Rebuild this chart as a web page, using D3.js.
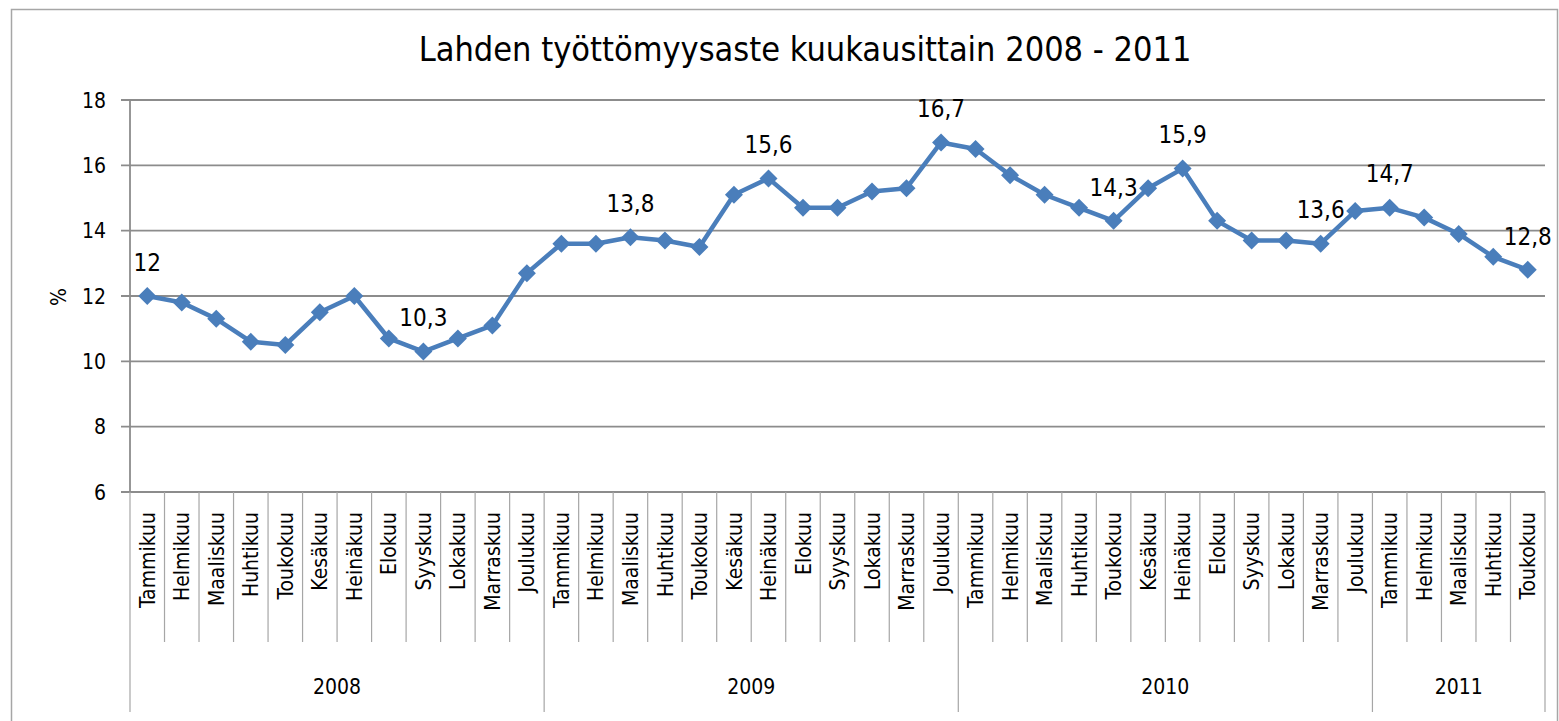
<!DOCTYPE html>
<html>
<head>
<meta charset="utf-8">
<script src="https://cdn.jsdelivr.net/npm/d3@7"></script>
<style>
  body { margin: 0; background: #fff; }
  svg text { font-family: "DejaVu Sans", sans-serif; font-stretch: condensed; fill: #000; }
</style>
</head>
<body>
<div id="chart"></div>
<script>
// Months per year as shown on the category axis
const years = ["2008", "2009", "2010", "2011"];
const monthsPerYear = [12, 12, 12, 5];
const monthNames = ["Tammikuu", "Helmikuu", "Maaliskuu", "Huhtikuu", "Toukokuu", "Kesäkuu",
                    "Heinäkuu", "Elokuu", "Syyskuu", "Lokakuu", "Marraskuu", "Joulukuu"];

// Unemployment rate, %
const rate = [
  12.0, 11.8, 11.3, 10.6, 10.5, 11.5, 12.0, 10.7, 10.3, 10.7, 11.1, 12.7,
  13.6, 13.6, 13.8, 13.7, 13.5, 15.1, 15.6, 14.7, 14.7, 15.2, 15.3, 16.7,
  16.5, 15.7, 15.1, 14.7, 14.3, 15.3, 15.9, 14.3, 13.7, 13.7, 13.6, 14.6,
  14.7, 14.4, 13.9, 13.2, 12.8
];

// Points that carry a data label
const labelled = [0, 8, 14, 18, 23, 28, 30, 34, 36, 40];

const yTicks = [6, 8, 10, 12, 14, 16, 18];

const W = 1559, H = 721;
const plot = { left: 130, right: 1545, top: 100, bottom: 492 };

// flatten months
const cats = [];
years.forEach((y, yi) => {
  for (let m = 0; m < monthsPerYear[yi]; m++) cats.push({ year: y, month: monthNames[m] });
});

const svg = d3.select('#chart').append('svg')
  .attr('width', W).attr('height', H);

// outer chart border
svg.append('rect')
  .attr('x', 11.5).attr('y', 9.5)
  .attr('width', 1546).attr('height', 730)
  .attr('fill', 'none').attr('stroke', '#a6a6a6').attr('stroke-width', 1.5);

svg.append('text')
  .attr('x', 805).attr('y', 61)
  .attr('text-anchor', 'middle')
  .style('font-size', '34px')
  .text('Lahden työttömyysaste kuukausittain 2008 - 2011');

const x = d3.scaleBand()
  .domain(d3.range(cats.length))
  .range([plot.left, plot.right]);

const y = d3.scaleLinear()
  .domain([6, 18])
  .range([plot.bottom, plot.top]);

// gridlines
svg.append('g')
  .selectAll('line')
  .data(yTicks)
  .join('line')
  .attr('x1', plot.left - 9).attr('x2', plot.right)
  .attr('y1', d => y(d)).attr('y2', d => y(d))
  .attr('stroke', '#8c8c8c').attr('stroke-width', 1.8);

// y tick labels
svg.append('g')
  .selectAll('text')
  .data(yTicks)
  .join('text')
  .attr('x', 106).attr('y', d => y(d))
  .attr('dy', '0.36em')
  .attr('text-anchor', 'end')
  .style('font-size', '21px')
  .text(d => d);

svg.append('text')
  .attr('transform', 'translate(58,297) rotate(-90)')
  .attr('dy', '0.36em')
  .attr('text-anchor', 'middle')
  .style('font-size', '21px')
  .text('%');

// value axis line
svg.append('line')
  .attr('x1', plot.left).attr('x2', plot.left)
  .attr('y1', plot.top).attr('y2', plot.bottom)
  .attr('stroke', '#8c8c8c').attr('stroke-width', 1.8);

// category boundaries: month ticks short, year ticks long
const yearStarts = [0];
monthsPerYear.forEach((n, i) => yearStarts.push(yearStarts[i] + n));
const bounds = d3.range(cats.length + 1);
svg.append('g')
  .selectAll('line')
  .data(bounds)
  .join('line')
  .attr('x1', d => plot.left + d * x.bandwidth())
  .attr('x2', d => plot.left + d * x.bandwidth())
  .attr('y1', plot.bottom)
  .attr('y2', d => yearStarts.includes(d) ? 712 : 642)
  .attr('stroke', '#a6a6a6').attr('stroke-width', 1.2);

// month labels (rotated)
svg.append('g')
  .selectAll('text')
  .data(cats)
  .join('text')
  .attr('transform', (d, i) => `translate(${x(i) + x.bandwidth() / 2},512) rotate(-90)`)
  .attr('dy', '0.36em')
  .attr('text-anchor', 'end')
  .style('font-size', '21px')
  .text(d => d.month);

// year labels
svg.append('g')
  .selectAll('text')
  .data(years)
  .join('text')
  .attr('x', (d, i) => (x(yearStarts[i]) + x(yearStarts[i + 1] - 1) + x.bandwidth()) / 2)
  .attr('y', 686)
  .attr('dy', '0.36em')
  .attr('text-anchor', 'middle')
  .style('font-size', '21px')
  .text(d => d);

// series
const cx = i => x(i) + x.bandwidth() / 2;
const line = d3.line().x((d, i) => cx(i)).y(d => y(d));
svg.append('path')
  .datum(rate)
  .attr('d', line)
  .attr('fill', 'none')
  .attr('stroke', '#4a7ebb')
  .attr('stroke-width', 4.5)
  .attr('stroke-linejoin', 'round');

svg.append('g')
  .selectAll('path')
  .data(rate)
  .join('path')
  .attr('transform', (d, i) => `translate(${cx(i)},${y(d)})`)
  .attr('d', 'M0,-9L9,0L0,9L-9,0Z')
  .attr('fill', '#4a7ebb');

// data labels
const fmt = v => String(v).replace('.', ',');
svg.append('g')
  .selectAll('text')
  .data(labelled)
  .join('text')
  .attr('x', i => cx(i))
  .attr('y', i => y(rate[i]) - 34)
  .attr('dy', '0.36em')
  .attr('text-anchor', 'middle')
  .style('font-size', '24px')
  .text(i => fmt(rate[i]));
</script>
</body>
</html>
